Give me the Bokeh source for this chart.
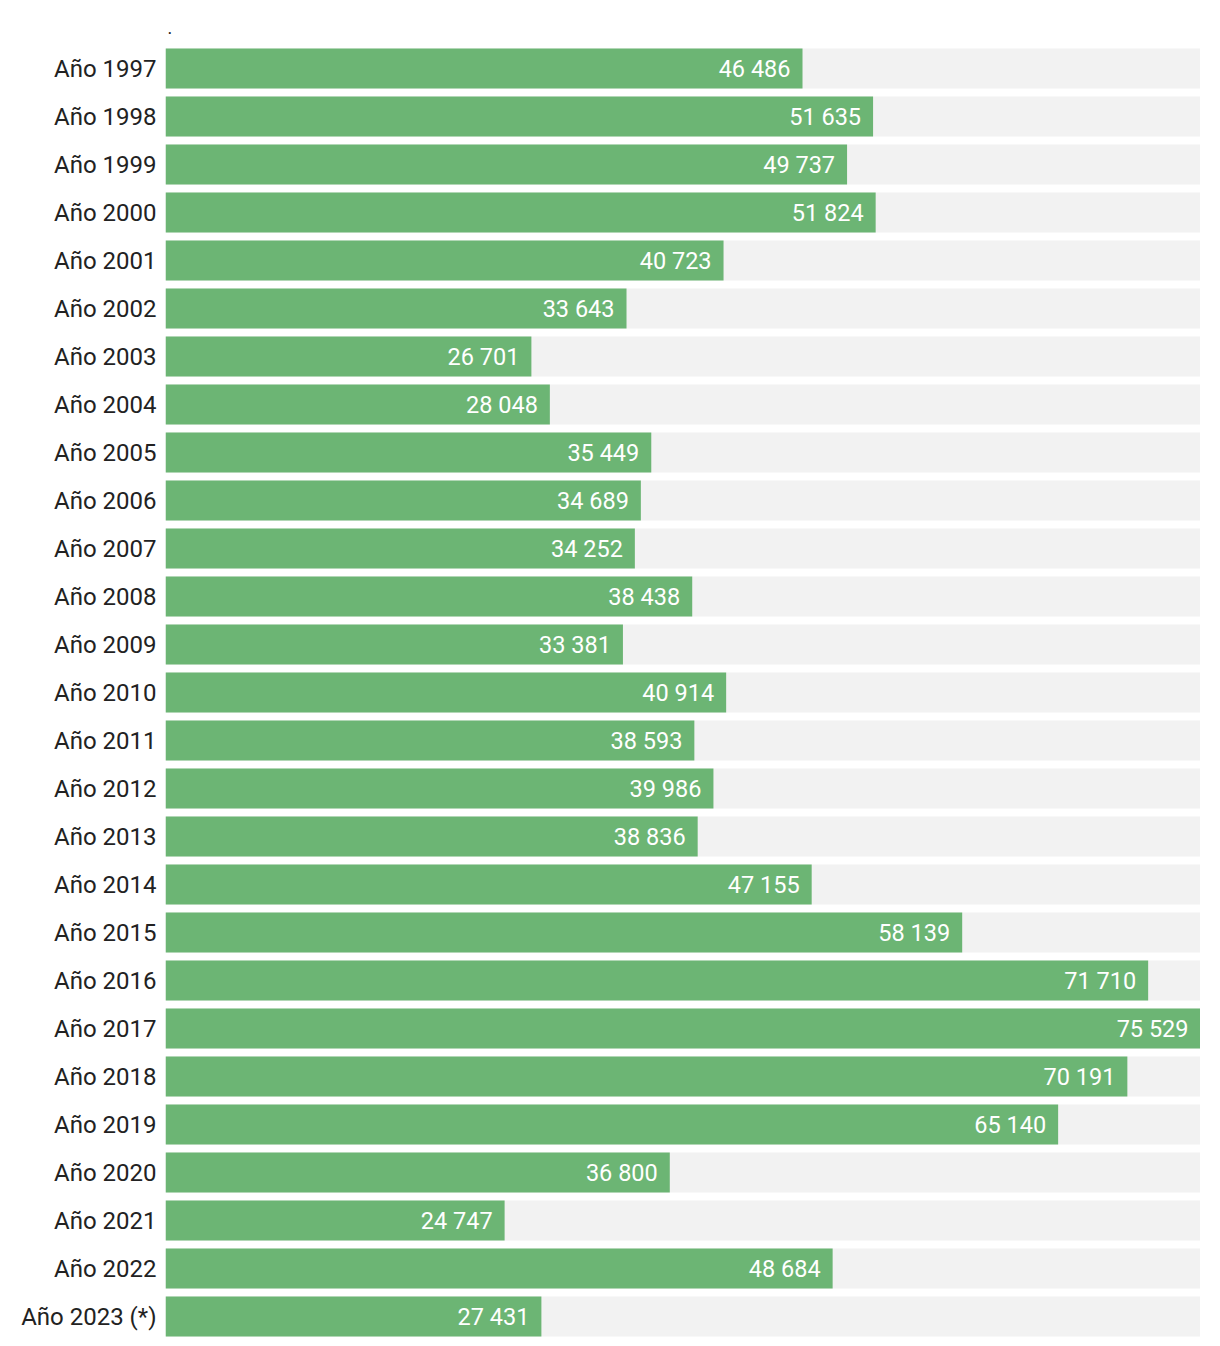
from bokeh.plotting import figure
from bokeh.models import ColumnDataSource, FactorRange, Range1d, Title
from bokeh.core.properties import value
from bokeh.embed import file_html
from bokeh.resources import INLINE

categories = ["Año 1997", "Año 1998", "Año 1999", "Año 2000", "Año 2001", "Año 2002",
              "Año 2003", "Año 2004", "Año 2005", "Año 2006", "Año 2007", "Año 2008",
              "Año 2009", "Año 2010", "Año 2011", "Año 2012", "Año 2013", "Año 2014",
              "Año 2015", "Año 2016", "Año 2017", "Año 2018", "Año 2019", "Año 2020",
              "Año 2021", "Año 2022", "Año 2023 (*)"]
values = [46486, 51635, 49737, 51824, 40723, 33643, 26701, 28048, 35449, 34689,
          34252, 38438, 33381, 40914, 38593, 39986, 38836, 47155, 58139, 71710,
          75529, 70191, 65140, 36800, 24747, 48684, 27431]

vmax = max(values)
labels = [f"{v:,}".replace(",", " ") for v in values]
src = ColumnDataSource(dict(cat=categories, val=values, lab=labels, full=[vmax] * len(values)))

FONT = "Roboto"
p = figure(width=1200, height=1340, output_backend="svg", toolbar_location=None,
           y_range=FactorRange(*reversed(categories), range_padding=0),
           x_range=Range1d(0, vmax),
           min_border_left=165, min_border_right=0, min_border_top=44, min_border_bottom=0)
p.add_layout(Title(text=".", align="left", text_font=FONT, text_font_size="18px",
                   text_font_style="normal", text_color="#222222", offset=2, standoff=22), "above")

p.hbar(y="cat", left=0, right="full", height=40 / 48, source=src, color="#f2f2f2", line_color=None)
p.hbar(y="cat", left=0, right="val", height=40 / 48, source=src, color="#6cb574", line_color=None)
p.text(x="val", y="cat", text="lab", source=src, x_offset=-12, text_align="right",
       text_baseline="middle", text_color="white", text_font=value(FONT), text_font_size="23.5px")

p.outline_line_color = None
p.xgrid.visible = False
p.ygrid.visible = False
p.xaxis.visible = False
p.yaxis.axis_line_color = None
p.yaxis.major_tick_line_color = None
p.yaxis.minor_tick_line_color = None
p.yaxis.major_label_standoff = 3
p.yaxis.major_label_text_font = FONT
p.yaxis.major_label_text_font_size = "24px"
p.yaxis.major_label_text_color = "#222222"
p.background_fill_color = "white"
p.border_fill_color = "white"

open("out.html", "w").write(file_html(p, INLINE))
